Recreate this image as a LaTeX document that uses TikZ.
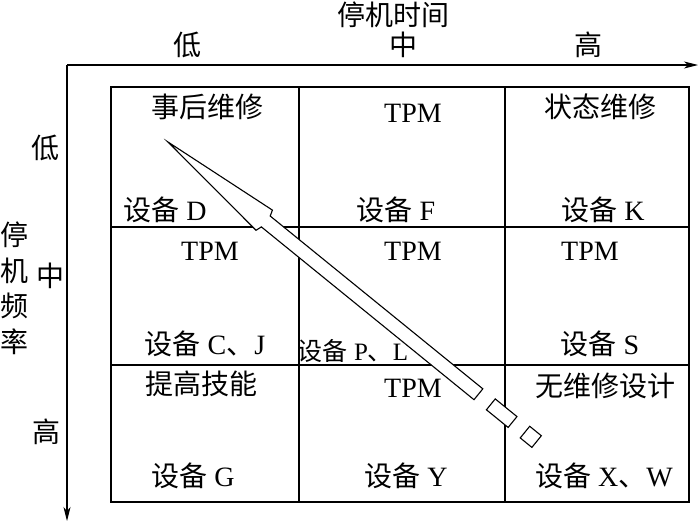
\documentclass[tikz,border=0pt]{standalone}
\usepackage{fontspec}
\setmainfont{Liberation Serif}
\newfontfamily\cjk{Noto Sans CJK SC}
\usetikzlibrary{arrows.meta}
\begin{document}
\begin{tikzpicture}[x=1pt,y=-1pt,
  lbl/.style={inner sep=0pt, font=\fontsize{28}{30}\selectfont},
  grid/.style={draw, line width=1.4pt},
  axis/.style={line width=1.1pt, -{Stealth[length=14pt,width=7pt,inset=4pt]}},
  hollow/.style={draw, fill=white, line width=1.1pt, line join=miter}]
\useasboundingbox (0,0) rectangle (698,522);
\fill[white] (0,0) rectangle (698,522);
% axes
\coordinate (o) at (67,65);
\coordinate (xe) at (698,65);
\coordinate (ye) at (67,521);
\draw[axis] (o) -- (xe);
\draw[axis] (o) -- (ye);
% grid
\draw[grid] (111,87) rectangle (689,502);
\draw[grid] (299,87) -- (299,502);
\draw[grid] (505,87) -- (505,502);
\draw[grid] (111,227) -- (689,227);
\draw[grid] (111,365) -- (689,365);
% axis titles
\node[lbl] (tx) at (393,15) {\cjk 停机时间};
\node[lbl] (xl) at (187,45) {\cjk 低};
\node[lbl] (xm) at (403,45) {\cjk 中};
\node[lbl] (xh) at (588,45) {\cjk 高};
\node[lbl] (ty1) at (14,235) {\cjk 停};
\node[lbl] (ty2) at (14,271) {\cjk 机};
\node[lbl] (ty3) at (14,306) {\cjk 频};
\node[lbl] (ty4) at (14,342) {\cjk 率};
\node[lbl] (yl) at (45,148) {\cjk 低};
\node[lbl] (ym) at (50,276) {\cjk 中};
\node[lbl] (yh) at (46,432) {\cjk 高};
% cells
\node[lbl] (a1) at (207,107) {\cjk 事后维修};
\node[lbl] (a2) at (165,210) {{\cjk 设备} D};
\node[lbl] (b1) at (413,113) {TPM};
\node[lbl] (b2) at (396,210) {{\cjk 设备} F};
\node[lbl] (c1) at (600,107) {\cjk 状态维修};
\node[lbl] (c2) at (603,210) {{\cjk 设备} K};
\node[lbl] (d1) at (210,251) {TPM};
\node[lbl] (d2) at (205,344) {{\cjk 设备} C{\cjk 、}J};
\node[lbl] (e1) at (413,251) {TPM};
\node[lbl, font=\fontsize{25}{27}\selectfont] (e2) at (353,351) {{\cjk 设备} P{\cjk 、}L};
\node[lbl] (f1) at (590,251) {TPM};
\node[lbl] (f2) at (600,344) {{\cjk 设备} S};
\node[lbl] (g1) at (201,384) {\cjk 提高技能};
\node[lbl] (g2) at (193,476) {{\cjk 设备} G};
\node[lbl] (h1) at (413,388) {TPM};
\node[lbl] (h2) at (406,476) {{\cjk 设备} Y};
\node[lbl] (i1) at (605,386) {\cjk 无维修设计};
\node[lbl] (i2) at (604,476) {{\cjk 设备} X{\cjk 、}W};
% hollow arrow
\begin{scope}[shift={(168,142)}, rotate=-39.1]
  \draw[hollow] (0,0) -- (124,-13) -- (126,-7) -- (400,-7) -- (400,7) -- (126,7) -- (124,13) -- cycle;
  \draw[hollow] (416,-7) rectangle (444,7);
  \draw[hollow] (460,-7.5) rectangle (475,7.5);
\end{scope}
\end{tikzpicture}
\end{document}
